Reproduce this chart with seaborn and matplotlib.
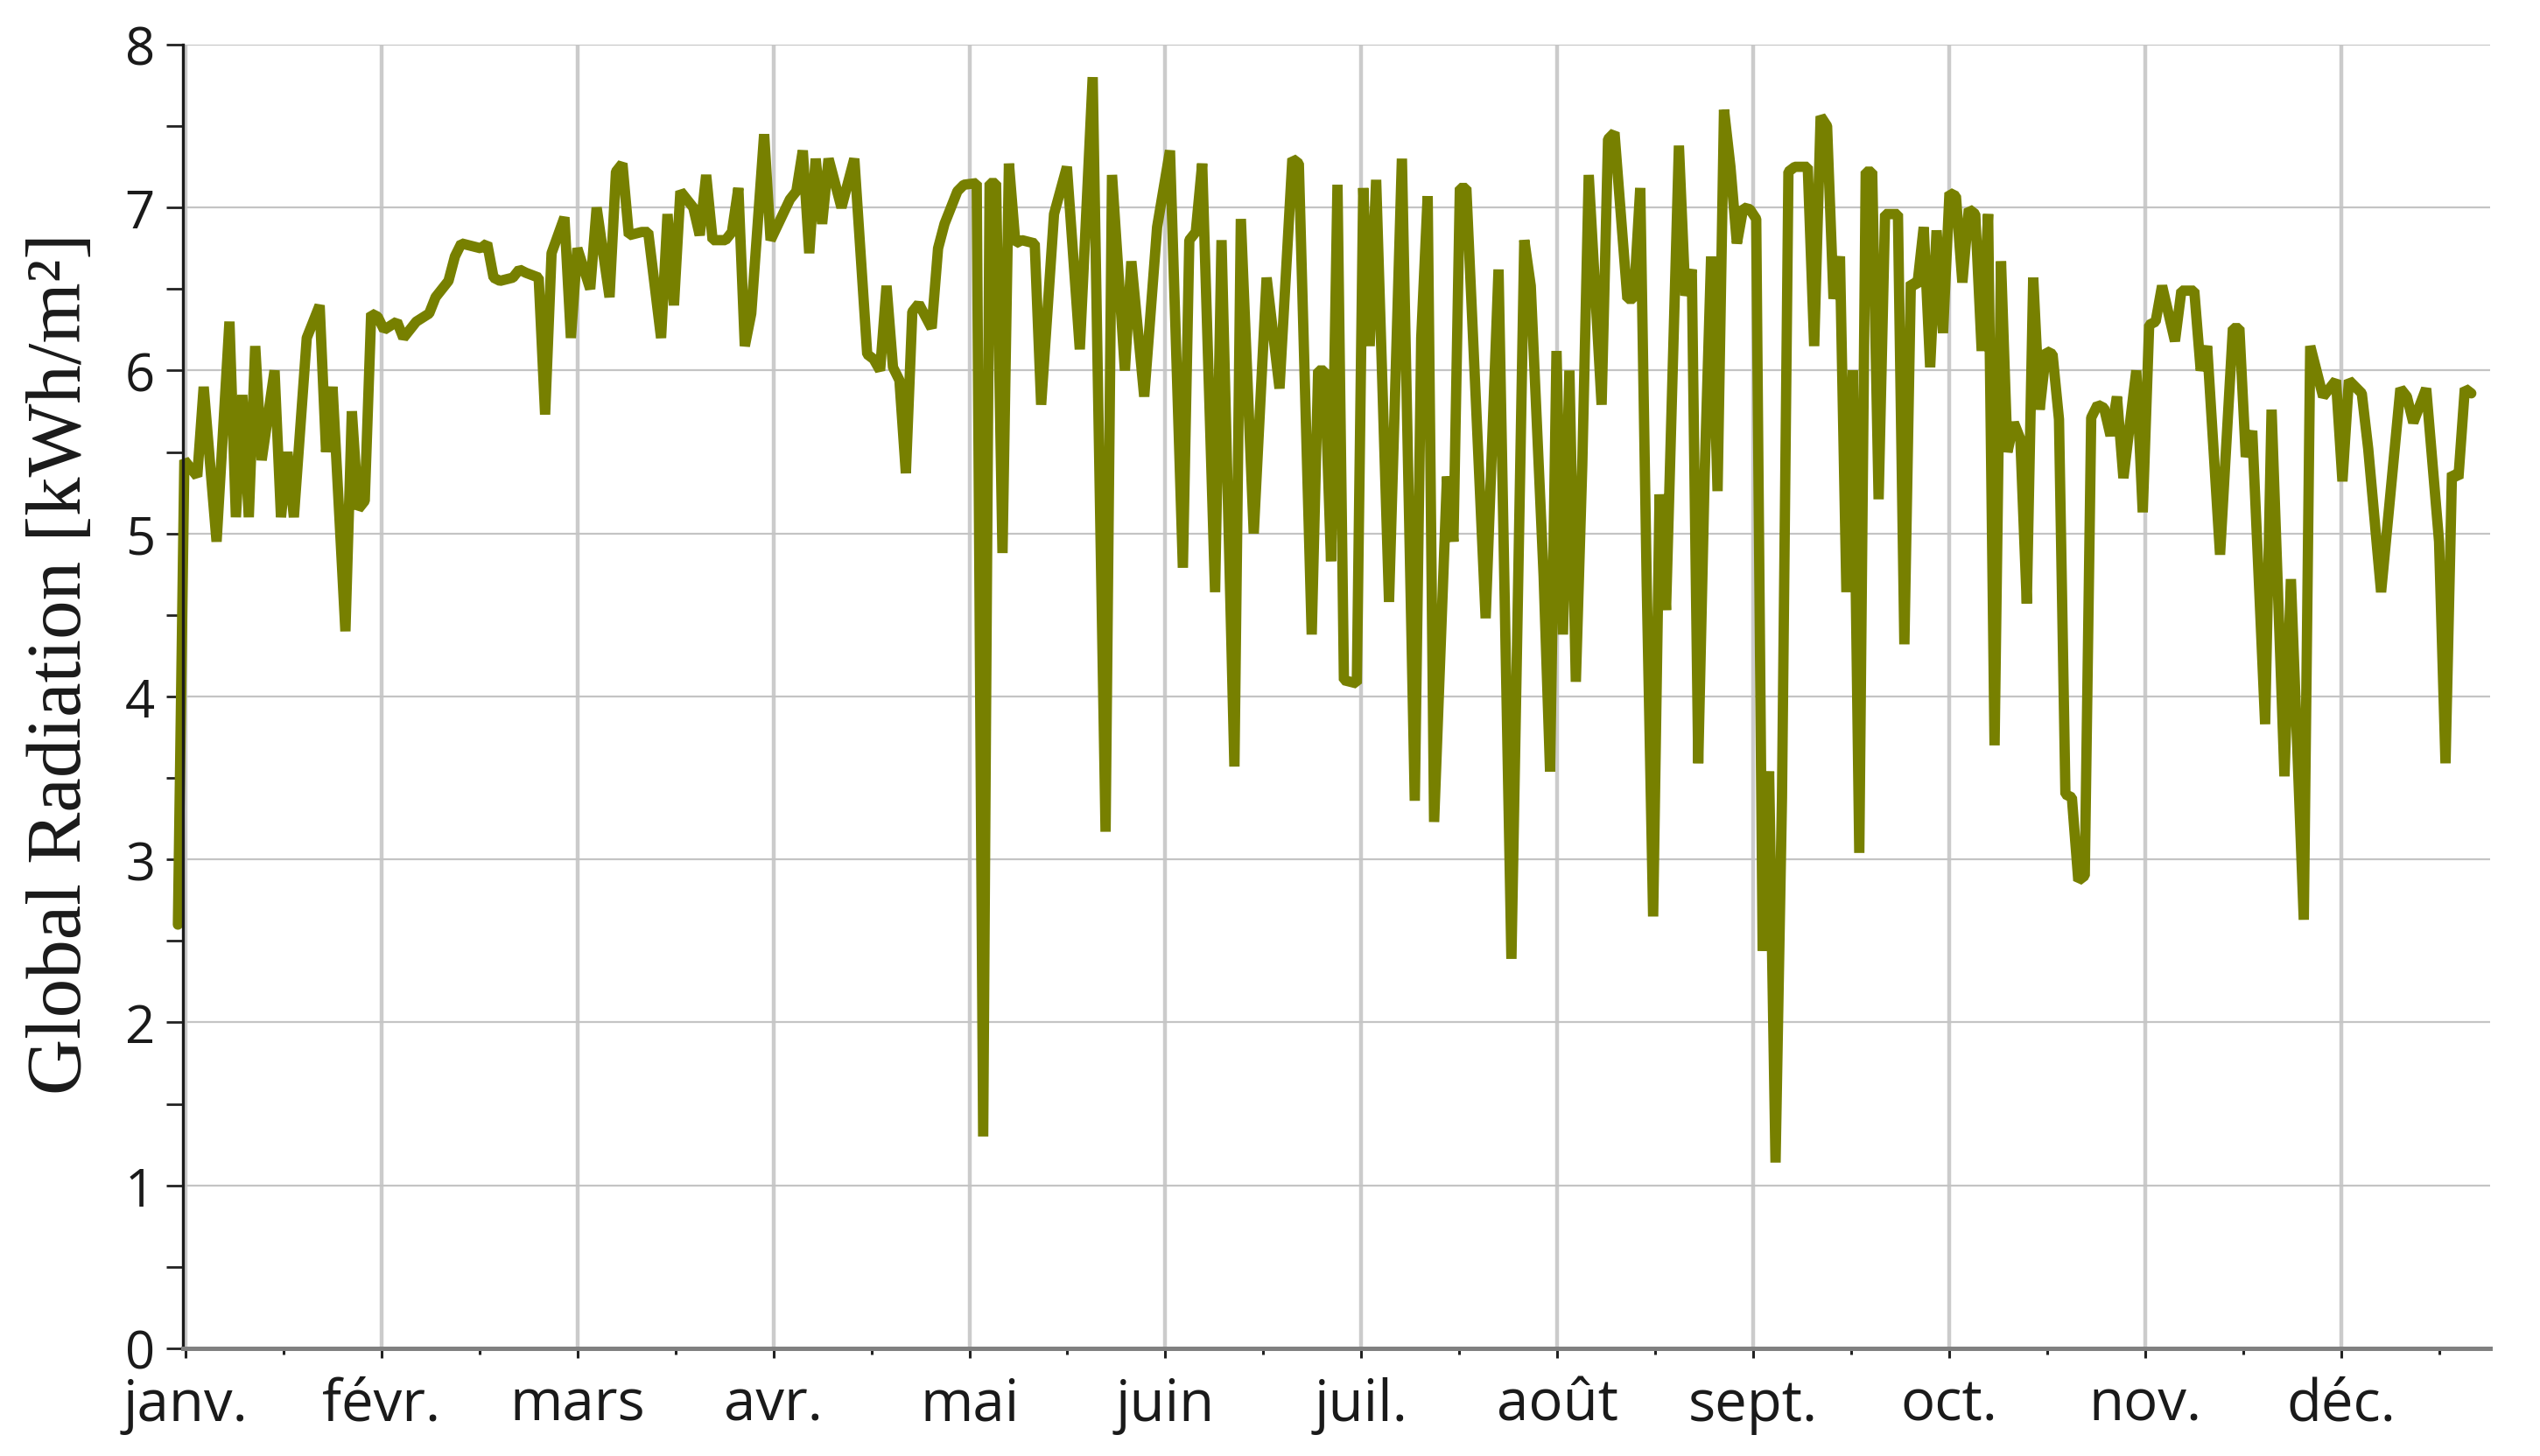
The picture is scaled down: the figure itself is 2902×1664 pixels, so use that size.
import numpy as np
import pandas as pd
import matplotlib
matplotlib.use("Agg")
import matplotlib.pyplot as plt
from matplotlib.ticker import FixedLocator, MultipleLocator
import seaborn as sns

# month labels (french)
months = ["janv.", "févr.", "mars", "avr.", "mai", "juin",
          "juil.", "août", "sept.", "oct.", "nov.", "déc."]

# day index / daily global radiation (kWh/m2)
days = [0, 1, 3, 4, 6, 8, 9, 10, 11, 12, 13, 15, 16, 17, 18, 20, 22, 23, 24, 26,
        27, 28, 29, 30, 31,
        32, 34, 35, 37, 39, 40, 42, 43, 44, 47, 48, 49, 50, 52, 53, 54, 56, 57, 58,
        60, 61,
        62, 64, 65, 67, 68, 69, 70, 72, 73, 75, 76, 77, 78, 80, 81, 82, 83, 85, 86,
        87, 88, 89, 91, 92, 95, 96, 97, 98, 99, 100, 101, 103, 105, 107, 108, 109,
        110, 111, 112, 113, 114, 115, 117, 118, 119, 121,
        122, 124, 125, 126, 127, 128, 129, 130, 131, 133, 134, 136, 138, 140, 142,
        144, 145, 147, 148, 150, 152, 154, 156, 157, 158, 159, 161, 162, 164, 165,
        167, 169, 171, 173, 174, 176, 177, 178, 179, 180,
        181, 183, 184, 185, 186, 188, 190, 192, 193, 194, 195, 197, 198, 199, 200,
        203, 205, 207, 209, 210, 212, 213, 214, 215, 216, 217, 218, 219, 221, 222,
        223, 225, 226, 227, 228, 229, 230, 231, 233, 234, 235, 236, 237, 238, 239,
        240, 241,
        242, 243, 244, 245, 246, 247, 248, 249, 250, 251, 253, 254, 255, 256, 257,
        258, 259, 260, 261, 262, 263, 264, 265, 267, 268, 269, 270, 271, 272, 273,
        274, 275, 276, 277, 278, 279, 280, 281, 282, 283, 284, 285, 286, 287, 288,
        289, 290, 291, 292, 293, 294, 295, 296, 297, 298, 299, 300, 301,
        302, 304, 305, 306, 307, 308, 310, 311, 313, 314, 315, 317, 319, 320, 321,
        322, 324, 325, 327, 328, 330, 331, 333, 335, 336, 337, 339, 340, 342, 345,
        346, 347, 349, 351, 352, 353, 354, 355, 356]

radiation = [2.6, 5.45, 5.35, 5.9, 4.95, 6.3, 5.1, 5.85, 5.1, 6.15, 5.45, 6.0, 5.1,
             5.5, 5.1, 6.2, 6.4, 5.5, 5.9, 4.4, 5.75, 5.15, 5.2, 6.35, 6.33,
             6.25, 6.3, 6.2, 6.3, 6.35, 6.45, 6.55, 6.7, 6.78, 6.75, 6.78, 6.57,
             6.55, 6.57, 6.62, 6.6, 6.57, 5.73, 6.72, 6.94, 6.2,
             6.75, 6.5, 7.0, 6.45, 7.22, 7.27, 6.83, 6.85, 6.85, 6.2, 6.96, 6.4,
             7.1, 7.0, 6.83, 7.2, 6.8, 6.8, 6.85, 7.12, 6.15, 6.35, 7.45, 6.8,
             7.05, 7.1, 7.35, 6.72, 7.3, 6.9, 7.3, 7.0, 7.3, 6.1, 6.07, 6.0, 6.52,
             6.02, 5.94, 5.37, 6.36, 6.41, 6.26, 6.75, 6.9, 7.1,
             7.14, 7.15, 1.3, 7.15, 7.15, 4.88, 7.27, 6.78, 6.8, 6.78, 5.79, 6.96,
             7.25, 6.13, 7.8, 3.17, 7.2, 6.0, 6.67, 5.84, 6.88, 7.35, 4.79, 6.8,
             6.85, 7.27, 4.64, 6.8, 3.57, 6.93, 5.0, 6.57, 5.89, 7.3, 7.27, 4.38,
             6.0, 6.0, 4.83, 7.14,
             4.1, 4.08, 7.12, 6.15, 7.17, 4.58, 7.3, 3.36, 6.2, 7.07, 3.23, 5.35,
             4.95, 7.12, 7.12, 4.48, 6.62, 2.39, 6.8, 6.52, 4.74, 3.54, 6.12, 4.38,
             6.0, 4.09, 5.42, 7.2, 5.79, 7.42, 7.46, 6.44, 6.44, 7.12, 4.7, 2.65,
             5.24, 4.53, 7.38, 6.46, 6.62, 3.59, 5.37, 6.7, 5.26, 7.6, 7.25,
             6.78, 7.0, 6.99, 6.93, 2.44, 3.54, 1.14, 3.38, 7.22, 7.25, 7.25, 6.15,
             7.56, 7.5, 6.44, 6.7, 4.64, 6.0, 3.04, 7.22, 7.22, 5.21, 6.96, 6.96,
             4.32, 6.54, 6.52, 6.88, 6.02, 6.86, 6.23, 7.09, 7.07, 6.54, 6.99, 6.96,
             6.12, 6.96, 3.7, 6.67, 5.5, 5.68, 5.58, 4.57, 6.57, 5.76, 6.12, 6.1,
             5.7, 3.4, 3.38, 2.87, 2.9, 5.71, 5.79, 5.77, 5.6, 5.84,
             5.34, 6.0, 5.13, 6.28, 6.3, 6.52, 6.18, 6.49, 6.49, 6.0, 6.15, 4.87,
             6.26, 6.26, 5.47, 5.63, 3.83, 5.76, 3.51, 4.72, 2.63, 6.15, 5.84, 5.94,
             5.32, 5.94, 5.86, 5.52, 4.64, 5.89, 5.84, 5.68, 5.89, 4.95, 3.59, 5.37,
             5.34, 5.89, 5.86]

df = pd.DataFrame({"day": days, "radiation": radiation})

sns.set_theme(style="white")
plt.rcParams["font.family"] = ["Open Sans", "DejaVu Sans"]

fig = plt.figure(figsize=(29.02, 16.65), dpi=100)
ax = fig.add_axes([0.072, 0.0739, 0.9083, 0.8949])

sns.lineplot(data=df, x="day", y="radiation", ax=ax, color="#778000",
             linewidth=8.5)
line = ax.lines[0]
line.set_solid_joinstyle("bevel")
line.set_clip_on(False)

# month ticks, equally spaced
month_pos = [1.18 + 30.42 * i for i in range(12)]
mid_pos = [p + 15.21 for p in month_pos]
ax.xaxis.set_major_locator(FixedLocator(month_pos))
ax.xaxis.set_minor_locator(FixedLocator(mid_pos))
ax.set_xticklabels(months)
ax.set_xlim(0.77, 358.9)

ax.set_ylim(0, 8)
ax.yaxis.set_major_locator(MultipleLocator(1))
ax.yaxis.set_minor_locator(MultipleLocator(0.5))

ax.set_axisbelow(True)
ax.grid(axis="y", which="major", color="#c4c4c4", linewidth=1.6)
ax.grid(axis="x", which="major", color="#cbcbcb", linewidth=3.2)

ax.tick_params(axis="y", which="both", left=True, direction="out", length=14,
               width=2, color="#222222", labelsize=43, pad=9,
               labelcolor="#1a1a1a")
ax.tick_params(axis="x", which="major", bottom=True, direction="out", length=8,
               width=2.2, color="#222222", labelsize=47, pad=15,
               labelcolor="#1a1a1a")
ax.tick_params(axis="x", which="minor", bottom=True, direction="out", length=5,
               width=2.2, color="#222222")

for s in ["top", "right"]:
    ax.spines[s].set_visible(False)
ax.spines["left"].set_color("#1a1a1a")
ax.spines["left"].set_linewidth(2.4)
ax.spines["bottom"].set_color("#808080")
ax.spines["bottom"].set_linewidth(3.6)

ax.set_xlabel("")
ax.set_ylabel("Global Radiation [kWh/m²]", fontfamily="Liberation Serif",
              fontsize=64, color="#1a1a1a")
ax.yaxis.set_label_coords(-0.037, 0.5255)

fig.savefig("out.png", dpi=100)
